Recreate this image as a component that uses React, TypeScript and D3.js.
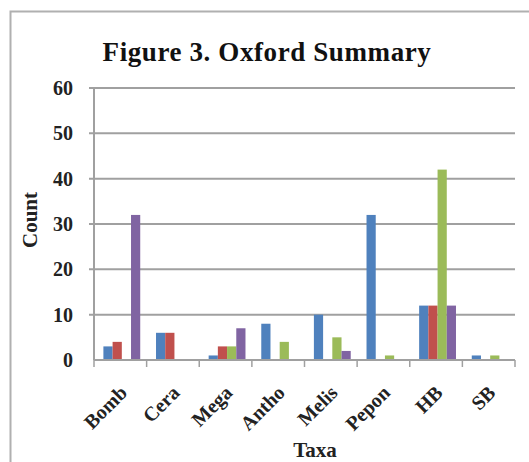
import { useEffect, useRef } from 'react';
import * as d3 from 'd3';

const taxa = ['Bomb', 'Cera', 'Mega', 'Antho', 'Melis', 'Pepon', 'HB', 'SB'];
const seriesA = [3, 6, 1, 8, 10, 32, 12, 1];
const seriesB = [4, 6, 3, 0, 0, 0, 12, 0];
const seriesC = [0, 0, 3, 4, 5, 1, 42, 1];
const seriesD = [32, 0, 7, 0, 2, 0, 12, 0];
const yTicks = [0, 10, 20, 30, 40, 50, 60];
const colors = ['#4F81BD', '#C0504D', '#9BBB59', '#8064A2'];

const W = 529;
const H = 462;

export default function App() {
  const svgRef = useRef<SVGSVGElement>(null);

  useEffect(() => {
    if (!svgRef.current) return;
    const svg = d3.select(svgRef.current);
    svg.selectAll('*').remove();

    const margin = { top: 88, right: 14, bottom: 102, left: 94 };
    const innerWidth = W - margin.left - margin.right;
    const innerHeight = H - margin.top - margin.bottom;
    const font = '"Liberation Serif", "Times New Roman", serif';

    svg.append('rect')
      .attr('width', W).attr('height', H).attr('fill', '#fff');

    // outer chart frame
    svg.append('rect')
      .attr('x', 10.5).attr('y', 11.5)
      .attr('width', W + 20).attr('height', H + 20)
      .attr('fill', '#fff')
      .attr('stroke', '#b0b0b0')
      .attr('stroke-width', 2);

    svg.append('text')
      .attr('x', 267).attr('y', 61)
      .attr('text-anchor', 'middle')
      .attr('font-family', font)
      .attr('font-weight', 'bold')
      .attr('font-size', 27)
      .attr('letter-spacing', 0.6)
      .attr('fill', '#111')
      .text('Figure 3. Oxford Summary');

    const g = svg.append('g')
      .attr('transform', `translate(${margin.left},${margin.top})`);

    const x0 = d3.scaleBand().domain(taxa).range([0, innerWidth]).paddingInner(0.3).paddingOuter(0.15);
    const x1 = d3.scaleBand().domain(['0', '1', '2', '3']).range([0, x0.bandwidth()]);
    const xTick = d3.scaleBand().domain(taxa).range([0, innerWidth]);
    const y = d3.scaleLinear().domain([0, 60]).range([innerHeight, 0]);

    // gridlines
    g.append('g')
      .selectAll('line')
      .data(yTicks.filter(t => t > 0))
      .join('line')
      .attr('x1', -5).attr('x2', innerWidth)
      .attr('y1', d => y(d)).attr('y2', d => y(d))
      .attr('stroke', '#a0a0a0').attr('stroke-width', 2);

    // y axis
    g.append('line')
      .attr('x1', 0).attr('x2', 0).attr('y1', 0).attr('y2', innerHeight)
      .attr('stroke', '#a0a0a0').attr('stroke-width', 2);
    g.append('g')
      .selectAll('text')
      .data(yTicks)
      .join('text')
      .attr('x', -21).attr('y', d => y(d) + 7)
      .attr('text-anchor', 'end')
      .attr('font-family', font).attr('font-weight', 'bold').attr('font-size', 20)
      .attr('fill', '#222')
      .text(d => d);

    const series = [seriesA, seriesB, seriesC, seriesD];
    series.forEach((vals, si) => {
      g.append('g')
        .selectAll('rect')
        .data(vals)
        .join('rect')
        .attr('x', (_, i) => (x0(taxa[i]) || 0) + (x1(String(si)) || 0) + 1.5)
        .attr('y', d => y(d))
        .attr('width', x1.bandwidth())
        .attr('height', d => innerHeight - y(d))
        .attr('fill', colors[si]);
    });

    // x axis
    g.append('line')
      .attr('x1', 0).attr('x2', innerWidth).attr('y1', innerHeight).attr('y2', innerHeight)
      .attr('stroke', '#a0a0a0').attr('stroke-width', 2);
    g.append('g')
      .selectAll('line')
      .data(taxa.concat(['end']))
      .join('line')
      .attr('x1', (_, i) => i * xTick.step()).attr('x2', (_, i) => i * xTick.step())
      .attr('y1', innerHeight).attr('y2', innerHeight + 7)
      .attr('stroke', '#a0a0a0').attr('stroke-width', 1.5);

    g.append('g')
      .selectAll('text')
      .data(taxa)
      .join('text')
      .attr('transform', d => `translate(${(xTick(d) || 0) + xTick.bandwidth() / 2 + 8},${innerHeight + 34}) rotate(-45)`)
      .attr('text-anchor', 'end')
      .attr('font-family', font).attr('font-weight', 'bold').attr('font-size', 20)
      .attr('fill', '#222')
      .text(d => d);

    svg.append('text')
      .attr('x', 315).attr('y', 457)
      .attr('text-anchor', 'middle')
      .attr('font-family', font).attr('font-weight', 'bold').attr('font-size', 21)
      .attr('fill', '#222')
      .text('Taxa');

    svg.append('text')
      .attr('transform', `translate(37,${margin.top + innerHeight / 2 - 4}) rotate(-90)`)
      .attr('text-anchor', 'middle')
      .attr('font-family', font).attr('font-weight', 'bold').attr('font-size', 21)
      .attr('fill', '#222')
      .text('Count');
  }, []);

  return (
    <div style={{ position: 'absolute', left: 0, top: 0, width: W, height: H, overflow: 'hidden' }}>
      <svg ref={svgRef} width={W} height={H}></svg>
    </div>
  );
}
